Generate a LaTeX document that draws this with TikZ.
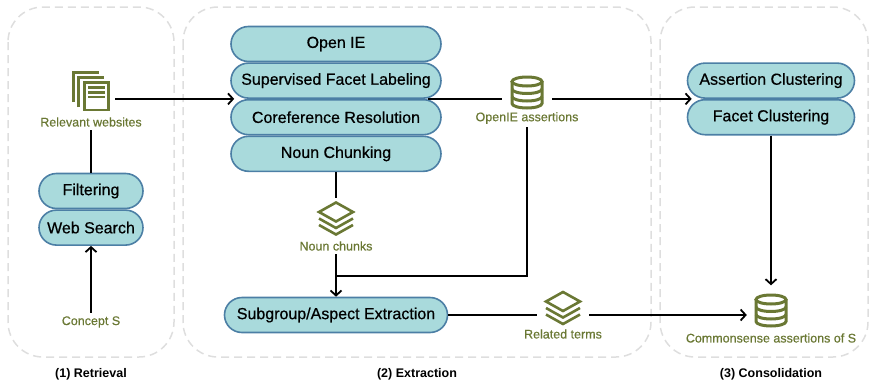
\documentclass[tikz,border=0pt]{standalone}
\usepackage{fontspec}
\setmainfont{Liberation Sans}
\newfontfamily\medfont{Liberation Sans}[FakeBold=0.6]
\usetikzlibrary{positioning,arrows.meta}

\definecolor{boxfill}{HTML}{A9DADC}
\definecolor{boxline}{HTML}{4C7FA5}
\definecolor{moss}{HTML}{6A7834}
\definecolor{framegray}{HTML}{DEDEDE}

\tikzset{
	stage/.style={draw=boxline, fill=boxfill, line width=1.6pt, rounded corners=17.5pt,
		minimum height=35pt, inner sep=0pt, font=\medfont\fontsize{16}{19}\selectfont},
	panel/.style={draw=framegray, line width=1.5pt, dash pattern=on 8pt off 5pt, rounded corners=35pt},
	output/.style={text=moss, font=\medfont\fontsize{12.5}{15}\selectfont},
	caption/.style={font=\bfseries\fontsize{12.5}{15}\selectfont},
	icon/.style 2 args={inner sep=0pt, minimum width=#1, minimum height=#2},
	link/.style={line width=1.8pt},
	arr/.style={link, -{Straight Barb[length=5pt,width=11pt]}},
	docs/.pic={
		\draw[moss, line width=2.6pt] (-17.3,-11) -- (-17.3,18.7) -- (8.3,18.7);
		\draw[moss, line width=2.6pt] (-12.3,-16) -- (-12.3,13.7) -- (13.3,13.7);
		\draw[moss, line width=2.6pt, fill=white] (-6.5,8.5) rectangle (17.5,-19);
		\foreach \y in {3.3,-1.3,-6}
			\draw[moss, line width=2.8pt] (-2.7,\y) -- (14,\y);
	},
	dbase/.pic={
		\draw[moss, line width=3pt] (0,11) ellipse[x radius=15, y radius=4.5];
		\draw[moss, line width=3pt] (-15,11) -- (-15,-11) arc[start angle=180, end angle=360, x radius=15, y radius=4.5] -- (15,11);
		\foreach \y in {3.5,-4}
			\draw[moss, line width=3pt] (-15,\y) arc[start angle=180, end angle=360, x radius=15, y radius=4.5];
	},
	layers/.pic={
		\draw[moss, line width=2.6pt] (0,16) -- (17,6.5) -- (0,-3) -- (-17,6.5) -- cycle;
		\foreach \y in {0,-6.5}
			\draw[moss, line width=2.6pt] (-17,\y) -- (0,\y-9.5) -- (17,\y);
	},
}

\begin{document}
\begin{tikzpicture}[x=1pt, y=1pt]
	\useasboundingbox (0,0) rectangle (873,-383);

	% the three stages
	\draw[panel] (8,-7) rectangle (174,-357);
	\draw[panel] (183,-7) rectangle (651,-357);
	\draw[panel] (660,-7) rectangle (868,-357);
	\node[caption] (ret) at (91,-374) {(1) Retrieval};
	\node[caption] (ext) at (417,-374) {(2) Extraction};
	\node[caption] (con) at (771,-374) {(3) Consolidation};

	% retrieval
	\node[stage, minimum width=104pt] (filter) at (91,-191) {Filtering};
	\node[stage, minimum width=104pt, below=0pt of filter] (search) {Web Search};
	\node[output] (concept) at (91,-322) {Concept S};
	\node[icon={48pt}{40pt}] (web) at (91,-91) {};
	\pic at (web) {docs};
	\node[output] (weblbl) at (91,-122) {Relevant websites};

	% extraction
	\node[stage, minimum width=210pt] (openie) at (336,-44) {Open IE};
	\node[stage, minimum width=210pt, below=0pt of openie] (sfl) {Supervised Facet Labeling};
	\node[stage, minimum width=210pt, below=0pt of sfl] (coref) {Coreference Resolution};
	\node[stage, minimum width=210pt, below=0pt of coref] (chunk) {Noun Chunking};
	\node[icon={50pt}{40pt}] (oie) at (527,-92.5) {};
	\pic at (oie) {dbase};
	\node[output] (oielbl) at (527,-118) {OpenIE assertions};
	\node[icon={52pt}{40pt}] (nc) at (336,-218.5) {};
	\pic at (nc) {layers};
	\node[output] (nclbl) at (336,-246) {Noun chunks};
	\node[stage, minimum width=223pt] (sub) at (336,-315) {Subgroup/Aspect Extraction};
	\node[icon={52pt}{40pt}] (rt) at (563,-308) {};
	\pic at (rt) {layers};
	\node[output] (rtlbl) at (563,-334) {Related terms};

	% consolidation
	\node[stage, minimum width=167pt] (asrt) at (771,-80.6) {Assertion Clustering};
	\node[stage, minimum width=167pt, below=0pt of asrt] (facet) {Facet Clustering};
	\node[icon={48pt}{50pt}] (csa) at (771,-310.5) {};
	\pic at (csa) {dbase};
	\node[output] (csalbl) at (771,-338) {Commonsense assertions of S};

	% connectors
	\draw[arr] (concept) -- (search);
	\draw[link] (filter) -- (weblbl);
	\draw[arr] (web.east |- sfl.south) -- ([xshift=4pt]sfl.south west);
	\draw[link] ([xshift=-14pt]sfl.south east) -- (oie.west |- sfl.south);
	\draw[arr] (oie.east |- sfl.south) -- ([xshift=5pt]asrt.south west);
	\draw[link] (chunk) -- (nc);
	\coordinate (meet) at (336,-276);
	\draw[link] (oielbl) |- (meet);
	\draw[arr] (nclbl) -- (sub);
	\draw[link] (sub) -- (sub -| rt.west);
	\draw[arr] (sub -| rt.east) -- (sub -| csa.west);
	\draw[arr] (facet) -- (csa);
\end{tikzpicture}
\end{document}
